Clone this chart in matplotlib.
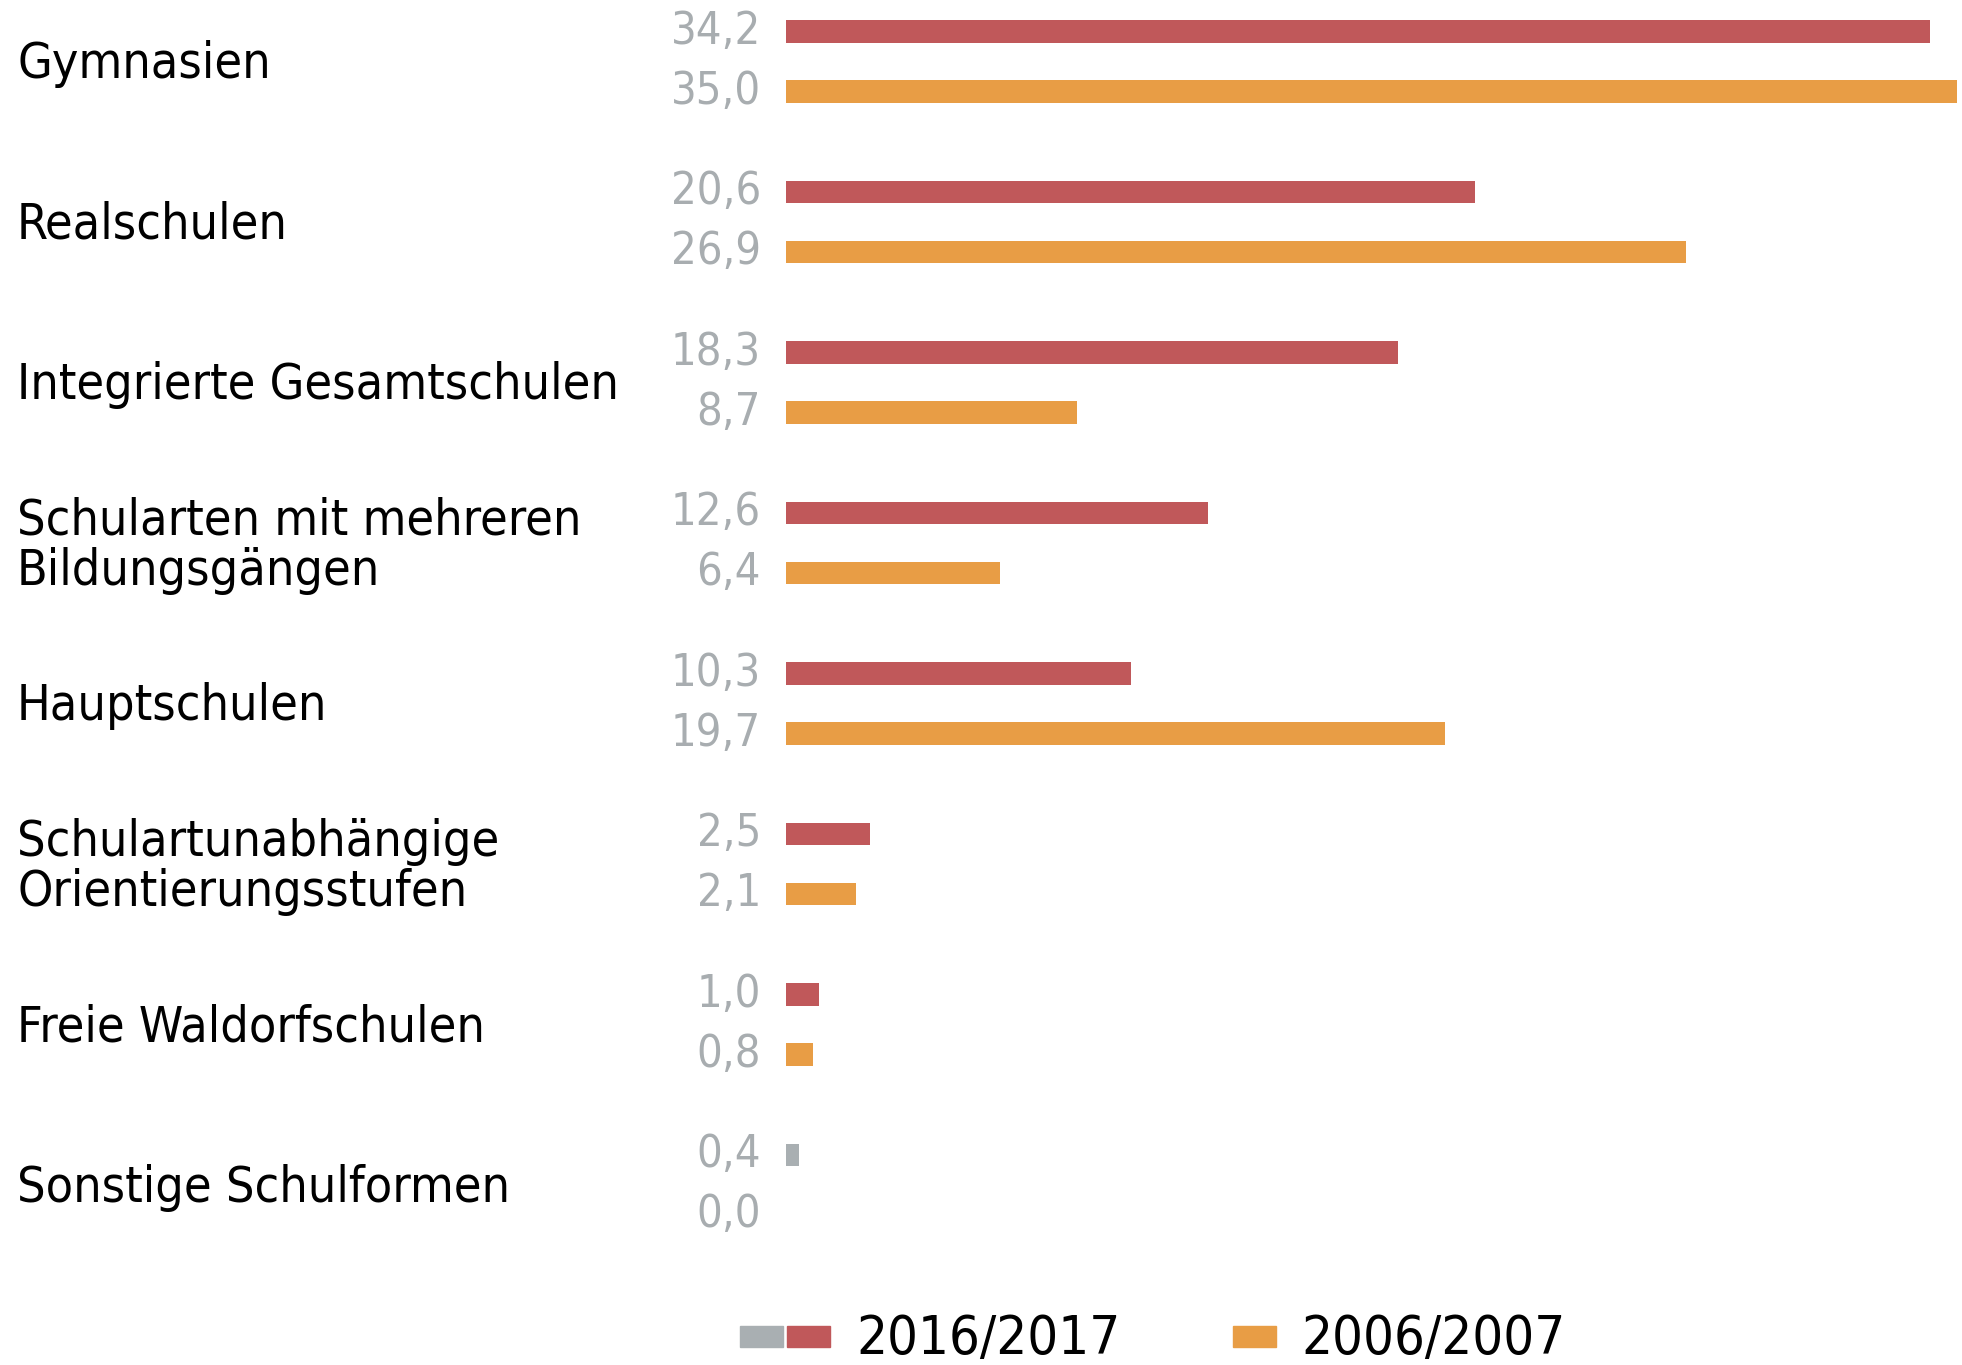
import matplotlib as mlt
mlt.use('Agg')
import matplotlib.pyplot as plt
from matplotlib.patches import Rectangle
import numpy as np

# data
categories = ['Gymnasien', 'Realschulen', 'Integrierte Gesamtschulen',
              'Schularten mit mehreren\nBildungsgängen', 'Hauptschulen',
              'Schulartunabhängige\nOrientierungsstufen', 'Freie Waldorfschulen',
              'Sonstige Schulformen']
val_2016 = [34.2, 20.6, 18.3, 12.6, 10.3, 2.5, 1.0, 0.4]
val_2006 = [35.0, 26.9, 8.7, 6.4, 19.7, 2.1, 0.8, 0.0]
legend_labels = ['2016/2017', '2006/2007']

red = '#c0585a'
orange = '#e89d45'
grey = '#a9afb2'
label_grey = '#a8adb0'
font = ['DejaVu Sans']

W, H = 1962, 1365
fig = plt.figure(figsize=(W / 100, H / 100), dpi=100)
ax = fig.add_axes([786 / W, 0, 1 - 786 / W, 1])
ax.set_xlim(0, 35.15)
ax.set_ylim(H / 160.5, 0)
ax.axis('off')

idx = np.arange(len(categories))
y_red = idx + 0.195
y_orange = idx + 0.569
colors_2016 = [red] * (len(categories) - 1) + [grey]

ax.barh(y_red, val_2016, height=0.14, color=colors_2016, left=0)
ax.barh(y_orange, val_2006, height=0.14, color=orange, left=0)

for i in idx:
    ax.text(-0.75, y_red[i], f'{val_2016[i]:.1f}'.replace('.', ','), ha='right', va='center',
            fontsize=32.5, color=label_grey, family=font, stretch='condensed')
    ax.text(-0.75, y_orange[i], f'{val_2006[i]:.1f}'.replace('.', ','), ha='right', va='center',
            fontsize=32.5, color=label_grey, family=font, stretch='condensed')
    fig.text(17 / W, 1 - (i + 0.4) * 160.5 / H, categories[i], ha='left', va='center',
             fontsize=36, color='black', family=font, stretch='condensed', linespacing=1.05)

# legend drawn by hand
sq_y = 1 - 1347 / H
sq_h = 21 / H
for x0, c in [(740, grey), (787, red), (1233, orange)]:
    fig.patches.append(Rectangle((x0 / W, sq_y), 43 / W, sq_h, color=c,
                                 transform=fig.transFigure, figure=fig))
fig.text(856 / W, 1 - 1339 / H, legend_labels[0], ha='left', va='center',
         fontsize=39, family=font, stretch='condensed')
fig.text(1301 / W, 1 - 1339 / H, legend_labels[1], ha='left', va='center',
         fontsize=39, family=font, stretch='condensed')

fig.savefig('out.png', dpi=100, facecolor='white')
